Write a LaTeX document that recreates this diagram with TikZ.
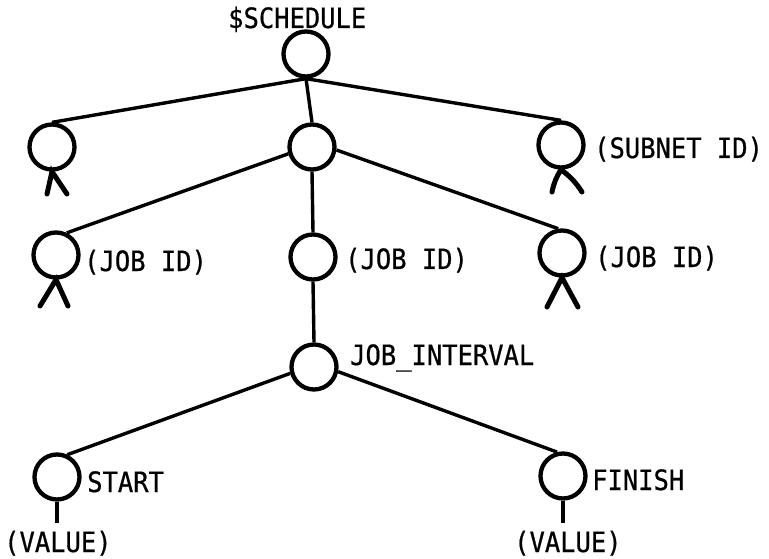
\documentclass[tikz,border=0pt]{standalone}
\usepackage{fontspec}
\newfontfamily\labfont{DejaVu Sans Mono}[FakeStretch=0.91,FakeBold=0.6]
\begin{document}
\begin{tikzpicture}[x=1pt,y=-1pt,
  nd/.style={circle,draw,line width=4.3pt,minimum size=45pt,inner sep=0pt},
  edge/.style={line width=3.4pt},
  leg/.style={line width=5pt,line cap=round},
  lab/.style={font=\labfont\fontsize{28}{30}\selectfont,anchor=base west,inner sep=0pt}]
\useasboundingbox[fill=white] (0,0) rectangle (769,559);
% tree nodes
\node[nd] (root) at (306,54) {};
\node[nd] (a) at (52,147) {};
\node[nd] (b) at (312,147) {};
\node[nd] (c) at (561,145) {};
\node[nd] (ja) at (56,255) {};
\node[nd] (jb) at (313,257) {};
\node[nd] (jc) at (562,253) {};
\node[nd] (ji) at (314,367) {};
\node[nd] (st) at (57,477) {};
\node[nd] (fi) at (563,476) {};
% labels
\node[lab] (l0) at (228,28) {\$SCHEDULE};
\node[lab] (l1) at (594,158) {(SUBNET ID)};
\node[lab] (l2) at (84,271) {(JOB ID)};
\node[lab] (l3) at (345,269) {(JOB ID)};
\node[lab] (l4) at (595,267) {(JOB ID)};
\node[lab] (l5) at (350,365) {JOB\_INTERVAL};
\node[lab] (l6) at (87,492) {START};
\node[lab] (l7) at (592,490) {FINISH};
\node[lab,inner ysep=8pt] (v1) at (4,552) {(VALUE)};
\node[lab,inner ysep=8pt] (v2) at (514,552) {(VALUE)};
% connectors
\draw[edge] (root.south) -- (a.north);
\draw[edge] (root.south) -- (c.north);
\draw[edge] (root.south) -- (b.north);
\draw[edge] (b.196) -- (ja.64);
\draw[edge] (b.353) -- (jc.99);
\draw[edge] (b.south) -- (jb.north);
\draw[edge] (jb.south) -- (ji.north);
\draw[edge] (ji.195) -- (st.65);
\draw[edge] (ji.349) -- (fi.104);
\draw[edge] (st.south) -- (st.south |- v1.north);
\draw[edge] (fi.south) -- (fi.south |- v2.north);
% legs
\coordinate (a1) at (47,194); \coordinate (a2) at (67,194);
\coordinate (c1) at (552,192); \coordinate (c2) at (582,192);
\coordinate (ja1) at (40,306); \coordinate (ja2) at (68,306);
\coordinate (jc1) at (547,307); \coordinate (jc2) at (578,307);
\draw[leg] (a1) -- (a.south) -- (a2);
\draw[leg] (c1) to[bend left=10] (c.south) to[bend left=10] (c2);
\draw[leg] (ja1) -- (ja.south) -- (ja2);
\draw[leg] (jc1) -- (jc.south) -- (jc2);
\end{tikzpicture}
\end{document}
